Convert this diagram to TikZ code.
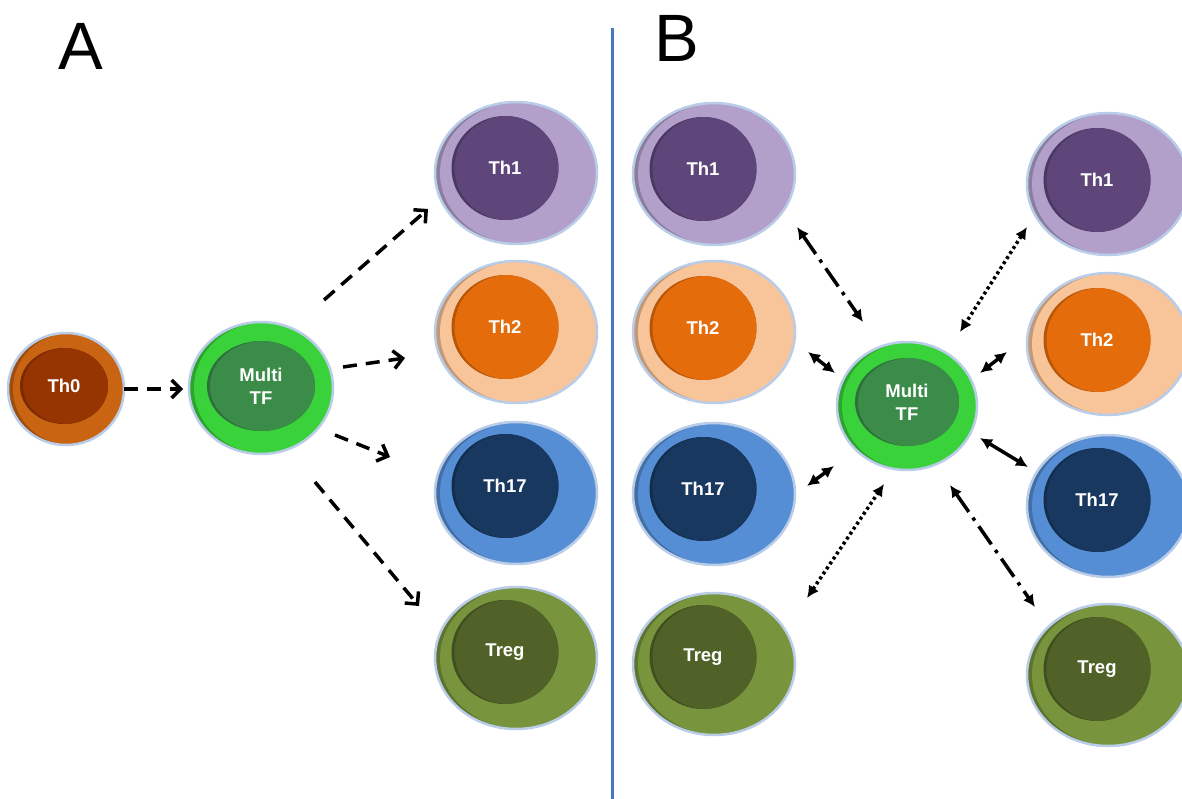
\documentclass[tikz,border=0pt]{standalone}
\usepackage{fontspec}
\setmainfont{Liberation Sans}
\usetikzlibrary{shapes.geometric,arrows.meta}
\definecolor{rim}{RGB}{185,205,232}
\definecolor{divline}{RGB}{72,118,192}
\definecolor{thzO}{RGB}{200,100,18}
\definecolor{thzI}{RGB}{150,52,2}
\definecolor{mtfO}{RGB}{58,210,58}
\definecolor{mtfI}{RGB}{58,140,72}
\definecolor{thoO}{RGB}{178,160,202}
\definecolor{thoI}{RGB}{94,70,122}
\definecolor{thtO}{RGB}{248,196,154}
\definecolor{thtI}{RGB}{228,108,10}
\definecolor{thsO}{RGB}{86,142,214}
\definecolor{thsI}{RGB}{24,56,96}
\definecolor{trO}{RGB}{120,148,60}
\definecolor{trI}{RGB}{80,98,40}
\tikzset{
  outercell/.style n args={3}{ellipse, inner sep=0pt, minimum width=#1, minimum height=#2,
    fill=#3!78!black, draw=rim, line width=2.5pt,
    path picture={\fill[#3] ([xshift=5pt]path picture bounding box.center) ellipse [x radius=0.5*#1, y radius=0.5*#2];}},
  innercell/.style n args={3}{ellipse, inner sep=0pt, minimum width=#1, minimum height=#2,
    fill=#3!80!black,
    path picture={\fill[#3] ([xshift=3pt]path picture bounding box.center) ellipse [x radius=0.5*#1, y radius=0.5*#2];},
    text=white, font=\fontsize{18.5}{23}\selectfont\bfseries, align=center},
  panellabel/.style={inner sep=0pt, font=\fontsize{67}{67}\selectfont},
  dasharrow/.style={line width=3.5pt, dash pattern=on 14pt off 9pt, -{Straight Barb[length=9pt,width=18pt]}},
  dblsolid/.style={line width=3.5pt, {Latex[length=12pt,width=12pt]}-{Latex[length=12pt,width=12pt]}},
  dbldot/.style={line width=3.5pt, dash pattern=on 3pt off 3pt, {Latex[length=12pt,width=12pt]}-{Latex[length=12pt,width=12pt]}},
  dbldashdot/.style={line width=3.5pt, dash pattern=on 22pt off 7pt on 3.5pt off 7pt, {Latex[length=12pt,width=12pt]}-{Latex[length=12pt,width=12pt]}},
}
\begin{document}
\begin{tikzpicture}[x=1pt,y=-1pt]
\useasboundingbox (0,0) rectangle (1182,799);
\fill[white] (0,0) rectangle (1182,799);

% divider and labels
\coordinate (divtop) at (612,28);
\coordinate (divbot) at (612,799);
\draw[divline, line width=3pt] (divtop) -- (divbot);
\node[panellabel] (labA) at (81,46) {A};
\node[panellabel] (labB) at (677,38) {B};

% ---------- Panel A ----------
\node[outercell={116pt}{112pt}{thzO}] (th0o) at (66,389) {};
\node[innercell={88pt}{76pt}{thzI}] (th0) at (64,386) {Th0};

\node[outercell={144pt}{132pt}{mtfO}] (mtfAo) at (261,388) {};
\node[innercell={108pt}{90pt}{mtfI}] (mtfA) at (261,386) {Multi\\TF};

\node[outercell={162pt}{142pt}{thoO}] (A1o) at (516,173) {};
\node[innercell={107pt}{104pt}{thoI}] (A1) at (505,168) {Th1};
\node[outercell={162pt}{142pt}{thtO}] (A2o) at (516,332) {};
\node[innercell={107pt}{104pt}{thtI}] (A2) at (505,327) {Th2};
\node[outercell={162pt}{142pt}{thsO}] (A3o) at (516,493) {};
\node[innercell={107pt}{104pt}{thsI}] (A3) at (505,486) {Th17};
\node[outercell={162pt}{142pt}{trO}] (A4o) at (516,658) {};
\node[innercell={107pt}{104pt}{trI}] (A4) at (505,652) {Treg};

% arrows A
\coordinate (a0s) at (124,389); \coordinate (a0e) at (183,389);
\coordinate (a1s) at (324,300); \coordinate (a1e) at (428,209);
\coordinate (a2s) at (343,367); \coordinate (a2e) at (405,358);
\coordinate (a3s) at (335,435); \coordinate (a3e) at (390,457);
\coordinate (a4s) at (315,482); \coordinate (a4e) at (419,606);
\draw[dasharrow] (a0s) -- (a0e);
\draw[dasharrow] (a1s) -- (a1e);
\draw[dasharrow] (a2s) -- (a2e);
\draw[dasharrow] (a3s) -- (a3e);
\draw[dasharrow] (a4s) -- (a4e);

% ---------- Panel B ----------
\node[outercell={140pt}{128pt}{mtfO}] (mtfBo) at (907,406) {};
\node[innercell={104pt}{88pt}{mtfI}] (mtfB) at (907,402) {Multi\\TF};

\node[outercell={162pt}{142pt}{thoO}] (L1o) at (714,174) {};
\node[innercell={107pt}{104pt}{thoI}] (L1) at (703,169) {Th1};
\node[outercell={162pt}{142pt}{thtO}] (L2o) at (714,332) {};
\node[innercell={107pt}{104pt}{thtI}] (L2) at (703,328) {Th2};
\node[outercell={162pt}{142pt}{thsO}] (L3o) at (714,494) {};
\node[innercell={107pt}{104pt}{thsI}] (L3) at (703,489) {Th17};
\node[outercell={162pt}{142pt}{trO}] (L4o) at (714,664) {};
\node[innercell={107pt}{104pt}{trI}] (L4) at (703,657) {Treg};

\node[outercell={162pt}{142pt}{thoO}] (R1o) at (1108,184) {};
\node[innercell={107pt}{104pt}{thoI}] (R1) at (1097,180) {Th1};
\node[outercell={162pt}{142pt}{thtO}] (R2o) at (1108,344) {};
\node[innercell={107pt}{104pt}{thtI}] (R2) at (1097,340) {Th2};
\node[outercell={162pt}{142pt}{thsO}] (R3o) at (1108,506) {};
\node[innercell={107pt}{104pt}{thsI}] (R3) at (1097,500) {Th17};
\node[outercell={162pt}{142pt}{trO}] (R4o) at (1108,675) {};
\node[innercell={107pt}{104pt}{trI}] (R4) at (1097,669) {Treg};

% arrows B
\coordinate (b1s) at (797,227); \coordinate (b1e) at (863,322);
\coordinate (b2s) at (1027,227); \coordinate (b2e) at (960,332);
\coordinate (b3s) at (808,352); \coordinate (b3e) at (835,373);
\coordinate (b4s) at (980,373); \coordinate (b4e) at (1007,352);
\coordinate (b5s) at (807,486); \coordinate (b5e) at (834,466);
\coordinate (b6s) at (980,438); \coordinate (b6e) at (1028,467);
\coordinate (b7s) at (807,598); \coordinate (b7e) at (884,484);
\coordinate (b8s) at (950,485); \coordinate (b8e) at (1035,607);
\draw[dbldashdot] (b1s) -- (b1e);
\draw[dbldot] (b2s) -- (b2e);
\draw[dblsolid] (b3s) -- (b3e);
\draw[dblsolid] (b4s) -- (b4e);
\draw[dblsolid] (b5s) -- (b5e);
\draw[dblsolid] (b6s) -- (b6e);
\draw[dbldot] (b7s) -- (b7e);
\draw[dbldashdot] (b8s) -- (b8e);
\end{tikzpicture}
\end{document}
